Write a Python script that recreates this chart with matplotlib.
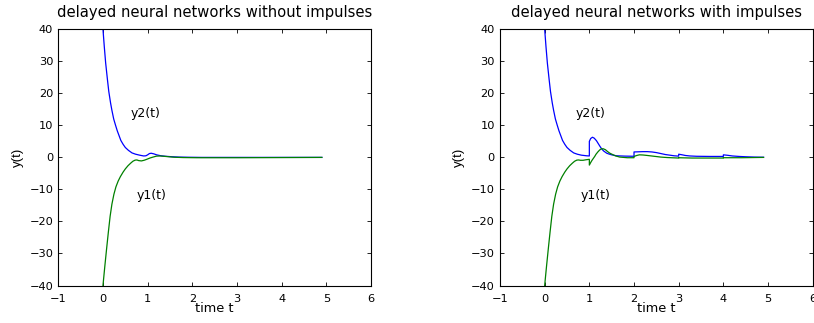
import matplotlib
matplotlib.use("Agg")
import matplotlib.pyplot as plt

plt.rcParams['font.family'] = ['DejaVu Sans']

# ---- data ----
# left panel: without impulses
t_left_y2 = [0, 0.03, 0.06, 0.1, 0.13, 0.17, 0.2, 0.24, 0.28, 0.32, 0.36, 0.4, 0.45, 0.5,
             0.57, 0.65, 0.73, 0.82, 0.91, 0.96, 1.0, 1.04, 1.08, 1.14, 1.2, 1.3, 1.4,
             1.55, 1.7, 1.9, 2.2, 3.0, 4.0, 4.9]
y_left_y2 = [40, 34.5, 29.5, 24.3, 20.6, 17.0, 14.7, 12.0, 10.1, 8.3, 6.8, 5.3, 4.1, 3.1,
             2.2, 1.4, 1.0, 0.7, 0.45, 0.5, 0.8, 1.2, 1.3, 1.1, 0.8, 0.5, 0.35,
             0.2, 0.1, 0.05, 0.0, 0.0, 0.0, 0.0]

t_left_y1 = [0, 0.04, 0.08, 0.12, 0.16, 0.2, 0.245, 0.29, 0.34, 0.39,
             0.45, 0.5, 0.56, 0.62, 0.67, 0.72, 0.76, 0.8, 0.86, 0.92, 0.98, 1.05, 1.12,
             1.2, 1.28, 1.4, 1.6, 1.8, 2.1, 3.0, 4.0, 4.9]
y_left_y1 = [-40, -34.2, -28.7, -23.4, -18.4, -14.6, -11.5, -9.2, -7.4, -6.0,
             -4.6, -3.6, -2.6, -1.8, -1.2, -0.85, -0.8, -1.0, -1.1, -0.9, -0.6, -0.2, 0.1,
             0.4, 0.45, 0.3, 0.05, -0.05, -0.1, -0.1, -0.05, 0.0]

# right panel: with impulses at t = 1, 2, 3, 4
t_right_y2 = [0, 0.03, 0.06, 0.1, 0.13, 0.17, 0.2, 0.24, 0.28, 0.32, 0.36, 0.4, 0.45, 0.5,
              0.57, 0.65, 0.73, 0.82, 0.94, 1.0, 1.0, 1.03, 1.07, 1.11, 1.16, 1.2, 1.24,
              1.28, 1.32, 1.39, 1.45, 1.5, 1.61, 1.8, 2.0, 2.0, 2.1, 2.2, 2.3, 2.4, 2.5,
              2.6, 2.7, 2.8, 2.9, 3.0, 3.0, 3.08, 3.15, 3.25, 3.4, 3.7, 4.0, 4.0, 4.1,
              4.2, 4.35, 4.5, 4.7, 4.9]
y_right_y2 = [40, 34.5, 29.5, 24.3, 20.6, 17.0, 14.7, 12.0, 10.1, 8.3, 6.8, 5.3, 4.1, 3.1,
              2.2, 1.4, 1.0, 0.7, 0.5, 0.45, 5.0, 5.9, 6.3, 6.0, 5.2, 4.3, 3.4,
              2.6, 2.0, 1.3, 1.0, 0.8, 0.5, 0.4, 0.35, 1.7, 1.75, 1.8, 1.8, 1.7, 1.5,
              1.2, 0.9, 0.7, 0.5, 0.4, 1.0, 0.8, 0.6, 0.45, 0.35, 0.3, 0.3, 0.8, 0.65,
              0.45, 0.3, 0.2, 0.1, 0.05]

t_right_y1 = [0, 0.04, 0.08, 0.12, 0.16, 0.2, 0.245, 0.29, 0.34, 0.39,
              0.45, 0.5, 0.56, 0.62, 0.67, 0.72, 0.76, 0.8, 0.86, 0.92, 1.0, 1.0, 1.03,
              1.06, 1.09, 1.12, 1.15, 1.19, 1.23, 1.27, 1.31, 1.36, 1.41, 1.46, 1.52,
              1.58, 1.68, 1.85, 2.0, 2.0, 2.06, 2.12, 2.2, 2.3, 2.45, 2.6, 2.75, 3.0,
              3.0, 3.3, 3.7, 4.0, 4.0, 4.4, 4.9]
y_right_y1 = [-40, -34.2, -28.7, -23.4, -18.4, -14.6, -11.5, -9.2, -7.4, -6.0,
              -4.6, -3.6, -2.6, -1.8, -1.2, -0.85, -0.8, -0.9, -0.9, -0.75, -0.6, -2.4, -1.6,
              -0.9, -0.3, 0.3, 1.0, 1.7, 2.3, 2.7, 2.7, 2.4, 1.8, 1.3, 0.9,
              0.5, 0.1, -0.1, -0.1, 0.3, 0.6, 0.8, 0.75, 0.6, 0.35, 0.1, -0.05, -0.2,
              -0.1, -0.2, -0.2, -0.2, -0.1, -0.1, 0.0]

titles = ['delayed neural networks without impulses', 'delayed neural networks with impulses']
x_ticks = [-1, 0, 1, 2, 3, 4, 5, 6]
y_ticks = [-40, -30, -20, -10, 0, 10, 20, 30, 40]
label_y2_pos = [(0.61, 13.6), (0.70, 13.6)]
label_y1_pos = [(0.76, -12.0), (0.81, -12.0)]

panels = [
    (t_left_y1, y_left_y1, t_left_y2, y_left_y2),
    (t_right_y1, y_right_y1, t_right_y2, y_right_y2),
]

W, H = 814, 323
fig = plt.figure(figsize=(W / 100, H / 100), dpi=100)
axes_px = [(58.3, 29.3, 371.0, 285.5), (500.0, 29.3, 812.7, 285.5)]

blue = (0, 0, 1)
green = (0, 0.5, 0)

for i, (ax_px, panel) in enumerate(zip(axes_px, panels)):
    x0, ytop, x1, ybot = ax_px
    ax = fig.add_axes([x0 / W, 1 - ybot / H, (x1 - x0) / W, (ybot - ytop) / H])
    t1, v1, t2, v2 = panel
    ax.plot(t2, v2, color=blue, lw=0.9)
    ax.plot(t1, v1, color=green, lw=0.9)
    ax.set_xlim(-1, 6)
    ax.set_ylim(-40, 40)
    ax.set_xticks(x_ticks)
    ax.set_yticks(y_ticks)
    ax.set_xticklabels([str(v).replace('-', '\u2212') for v in x_ticks])
    ax.set_yticklabels([str(v).replace('-', '\u2212') for v in y_ticks])
    ax.tick_params(direction='in', top=True, right=True, length=3, width=0.6,
                   labelsize=8.2)
    ax.tick_params(axis='x', pad=6.3)
    ax.tick_params(axis='y', pad=3.6)
    for s in ax.spines.values():
        s.set_linewidth(0.8)
    ax.set_title(titles[i], fontsize=10.6, pad=8.6)
    ax.set_xlabel('time t', fontsize=9.3, labelpad=-1.8)
    ax.set_ylabel('y(t)', fontsize=9.5, labelpad=4.0, family=['Liberation Sans'])
    ax.text(*label_y2_pos[i], 'y2(t)', fontsize=9, va='center', ha='left')
    ax.text(*label_y1_pos[i], 'y1(t)', fontsize=9, va='center', ha='left')

fig.savefig('out.png', dpi=100)
